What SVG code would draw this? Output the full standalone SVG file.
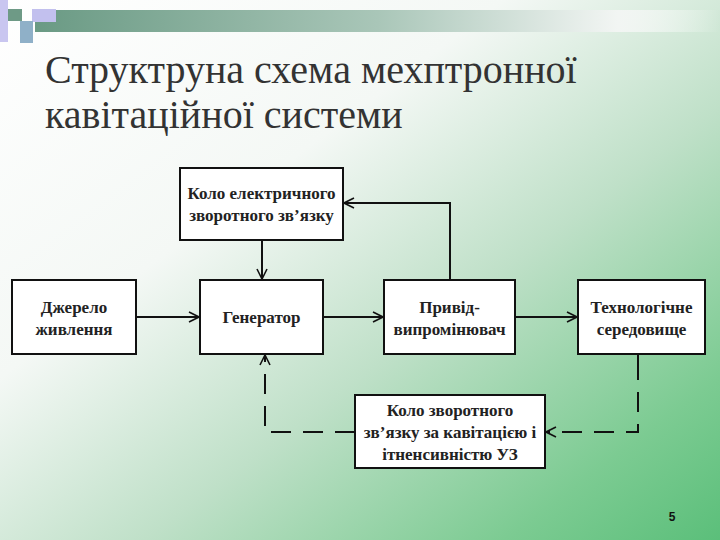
<svg xmlns="http://www.w3.org/2000/svg" width="720" height="540" viewBox="0 0 720 540">
<defs>
<linearGradient id="bg" x1="0" y1="0" x2="1" y2="1">
<stop offset="0" stop-color="#ffffff"/>
<stop offset="0.35" stop-color="#f4f8f5"/>
<stop offset="0.6" stop-color="#bfe0c8"/>
<stop offset="0.85" stop-color="#7ccb92"/>
<stop offset="1" stop-color="#5bbf7a"/>
</linearGradient>
<linearGradient id="band" x1="0" y1="0" x2="1" y2="0">
<stop offset="0" stop-color="#6a9a84"/>
<stop offset="0.5" stop-color="#a9c6b8"/>
<stop offset="0.85" stop-color="#f2f5f3"/>
<stop offset="1" stop-color="#ffffff" stop-opacity="0"/>
</linearGradient>
<marker id="arr" viewBox="0 0 12 12" refX="11" refY="6" markerWidth="12" markerHeight="12" markerUnits="userSpaceOnUse" orient="auto">
<path d="M1,1 L11,6 L1,11" fill="none" stroke="#111" stroke-width="1.6"/>
</marker>
<style>
.box{fill:#fff;stroke:#111;stroke-width:2}
.t{fill:#222;text-anchor:middle}
.c{fill:none;stroke:#111;stroke-width:2}
.d{fill:none;stroke:#111;stroke-width:2;stroke-dasharray:20,12}
.title{fill:#333}
</style>
</defs>
<rect width="720" height="540" fill="url(#bg)"/>
<rect x="35" y="10" width="685" height="22" fill="url(#band)"/>
<rect x="0" y="0" width="8" height="42" fill="#c9c6f0"/>
<rect x="32" y="9" width="24" height="13" fill="#c2c0ee"/>
<rect x="20" y="21" width="13" height="22" fill="#8fb0c8"/>
<rect x="8" y="9" width="14" height="12" fill="#6e9a86"/>
<g font-family="Liberation Serif, serif" font-size="40">
<text class="title" x="45" y="83">Структруна схема мехптронної</text>
<text class="title" x="45" y="128">кавітаційної системи</text>
</g>
<g id="connectors">
<path class="c" d="M262,240 V279" marker-end="url(#arr)"/>
<path class="c" d="M450,280 V203 H344" marker-end="url(#arr)"/>
<path class="c" d="M136,317 H199" marker-end="url(#arr)"/>
<path class="c" d="M323,317 H383" marker-end="url(#arr)"/>
<path class="c" d="M515,317 H577" marker-end="url(#arr)"/>
<path class="c" d="M638,354 V380"/>
<path class="d" d="M638,392 V432 H546" marker-end="url(#arr)"/>
<path class="d" d="M355,432 H265 V355" marker-end="url(#arr)"/>
</g>
<g font-family="Liberation Serif, serif" font-weight="bold" font-size="17">
<g id="n-feedback-el">
<rect class="box" x="180" y="168" width="163" height="72"/>
<text class="t" x="261.5" y="199">Коло електричного</text>
<text class="t" x="261.5" y="221">зворотного зв’язку</text>
</g>
<g id="n-source">
<rect class="box" x="12" y="280" width="124" height="74"/>
<text class="t" x="74" y="313">Джерело</text>
<text class="t" x="74" y="335">живлення</text>
</g>
<g id="n-generator">
<rect class="box" x="200" y="280" width="123" height="74"/>
<text class="t" x="261.5" y="323">Генератор</text>
</g>
<g id="n-drive">
<rect class="box" x="384" y="280" width="131" height="74"/>
<text class="t" x="449.5" y="313">Привід-</text>
<text class="t" x="449.5" y="335">випромінювач</text>
</g>
<g id="n-medium">
<rect class="box" x="578" y="280" width="127" height="74"/>
<text class="t" x="641.5" y="313">Технологічне</text>
<text class="t" x="641.5" y="335">середовище</text>
</g>
<g id="n-feedback-cav">
<rect class="box" x="355" y="395" width="190" height="73"/>
<text class="t" x="450" y="416">Коло зворотного</text>
<text class="t" x="450" y="438">зв’язку за кавітацією і</text>
<text class="t" x="450" y="460">ітненсивністю УЗ</text>
</g>
</g>
<text x="672" y="521" font-family="Liberation Sans, Arial, sans-serif" font-weight="bold" font-size="12" fill="#111" text-anchor="middle">5</text>
</svg>
